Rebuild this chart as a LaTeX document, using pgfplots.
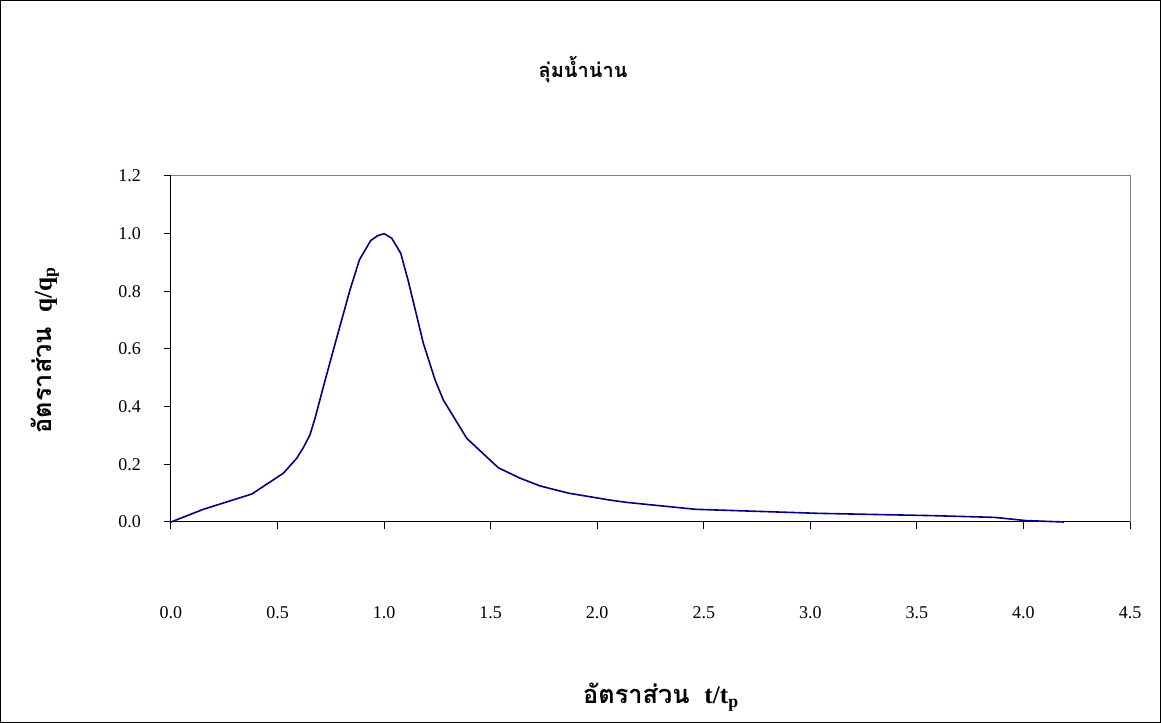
\documentclass[border=0pt]{standalone}
\usepackage{pgfplots}
\pgfplotsset{compat=1.18}
\usepackage{fontspec}
\setmainfont{Liberation Serif}
\newfontfamily\thaifont[Script=Thai]{Loma}
\definecolor{navy}{RGB}{0,0,128}
\definecolor{framegray}{RGB}{128,128,128}
\begin{document}
\begin{tikzpicture}
\begin{axis}[
  at={(0pt,0pt)}, anchor=origin,
  scale only axis,
  width=719.25pt, height=259.5pt,
  xmin=0, xmax=4.5, ymin=0, ymax=1.2,
  xtick={0,0.5,...,4.5}, ytick={0,0.2,...,1.2},
  axis x line*=bottom, axis y line*=left,
  axis line style={black, line width=0.75pt},
  tick style={black, line width=0.75pt},
  tick align=outside,
  major tick length=5pt,
  /pgf/number format/assume math mode=true,
  /pgf/number format/.cd, fixed, fixed zerofill, precision=1, /pgfplots/.cd,
  tick label style={font=\fontsize{13.5}{15}\selectfont},
  xticklabel style={anchor=center, yshift=-63pt},
  yticklabel style={anchor=east, xshift=-14pt},
  clip=false,
]
\addplot[navy, line width=1.2pt, sharp plot] coordinates {
(0,0) (0.152,0.044) (0.379,0.097) (0.449,0.131) (0.527,0.169) (0.590,0.221)
(0.621,0.258) (0.652,0.302) (0.676,0.360) (0.715,0.469) (0.762,0.597)
(0.801,0.701) (0.840,0.805) (0.884,0.909) (0.937,0.976) (0.97,0.993) (1.0,1.0)
(1.036,0.984) (1.078,0.932) (1.114,0.834) (1.137,0.764) (1.184,0.620)
(1.239,0.493) (1.278,0.423) (1.388,0.290) (1.536,0.188) (1.638,0.152)
(1.732,0.125) (1.865,0.100) (2.06,0.076) (2.138,0.068) (2.462,0.044)
(3.037,0.030) (3.576,0.022) (3.864,0.016) (4.01,0.005) (4.19,0.0)
};
\draw[framegray, line width=0.75pt] (rel axis cs:0,1) -- (rel axis cs:1,1) -- (rel axis cs:1,0);
\end{axis}
\draw[black, line width=0.75pt] (-127.875pt,-150.375pt) rectangle (742.125pt,391.125pt);
\node[font=\thaifont\bfseries\fontsize{15}{18}\selectfont] at (309pt,339pt) {ลุ่มน้ำน่าน};
\node at (367.5pt,-131.25pt) {\bfseries{\thaifont\fontsize{19}{22}\selectfont อัตราส่วน}\hspace{11pt}{\fontsize{19}{22}\selectfont t/t$_{\mathbf{p}}$}};
\node[rotate=90] at (-94.5pt,129pt) {\bfseries{\thaifont\fontsize{19}{22}\selectfont อัตราส่วน}\hspace{11pt}{\fontsize{19}{22}\selectfont q/q$_{\mathbf{p}}$}};
\end{tikzpicture}
\end{document}
